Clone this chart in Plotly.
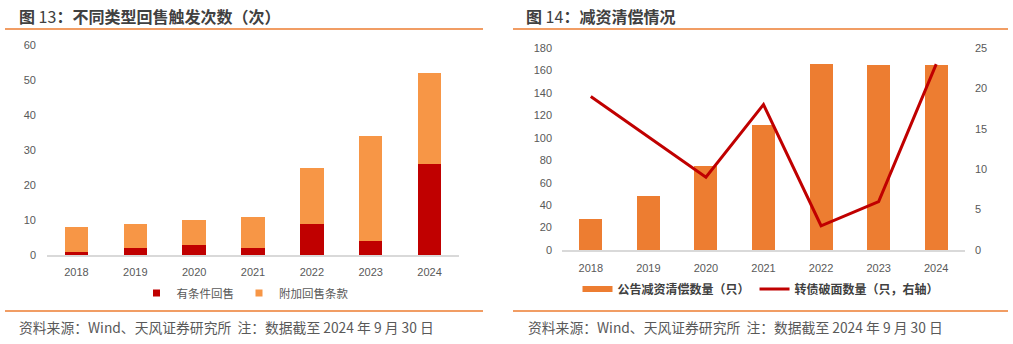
import plotly.graph_objects as go

years = ["2018", "2019", "2020", "2021", "2022", "2023", "2024"]
# Left chart: put-trigger counts
conditional_put = [1, 2, 3, 2, 9, 4, 26]
additional_put = [7, 7, 7, 9, 16, 30, 26]
# Right chart
capital_reduction = [28, 48, 75, 111, 166, 165, 165]
below_par = [19, 14, 9, 18, 3, 6, 23]

W, H = 1013, 344
def px(x):
    return x / W
def py(y):
    return 1 - y / H

RED = "#C00000"
ORANGE_L = "#F79646"
ORANGE_R = "#ED7D31"
LINE_C = "#ED7D31"
TXT = "#595959"
TICKFONT = dict(family="Liberation Sans, Arial, sans-serif", size=11, color=TXT)
CJK = "Noto Sans CJK SC, sans-serif"

fig = go.Figure()

fig.add_trace(go.Bar(x=years, y=conditional_put, name="有条件回售", marker_color=RED,
                     marker_line_width=0, xaxis="x", yaxis="y", showlegend=False))
fig.add_trace(go.Bar(x=years, y=additional_put, name="附加回售条款", marker_color=ORANGE_L,
                     marker_line_width=0, xaxis="x", yaxis="y", showlegend=False))
# legend entries (small squares) for the left chart
fig.add_trace(go.Scatter(x=[None], y=[None], mode="markers", name="有条件回售",
                         marker=dict(color=RED, symbol="square", size=7),
                         xaxis="x", yaxis="y", legend="legend"))
fig.add_trace(go.Scatter(x=[None], y=[None], mode="markers", name="附加回售条款",
                         marker=dict(color=ORANGE_L, symbol="square", size=7),
                         xaxis="x", yaxis="y", legend="legend"))

fig.add_trace(go.Bar(x=years, y=capital_reduction, name="公告减资清偿数量（只）",
                     marker_color=ORANGE_R, marker_line_width=0, xaxis="x2", yaxis="y2",
                     showlegend=False))
fig.add_trace(go.Scatter(x=[None], y=[None], mode="lines", name="公告减资清偿数量（只）",
                         line=dict(color=ORANGE_R, width=6), xaxis="x2", yaxis="y2",
                         legend="legend2"))
fig.add_trace(go.Scatter(x=years, y=below_par, mode="lines", name="转债破面数量（只，右轴）",
                         line=dict(color=RED, width=3), xaxis="x2", yaxis="y3",
                         legend="legend2"))

axis_common = dict(showgrid=False, zeroline=False, ticks="", tickfont=TICKFONT, automargin=False)

fig.update_layout(
    template="none",
    width=W, height=H,
    margin=dict(l=0, r=0, t=0, b=0, pad=0, autoexpand=False),
    paper_bgcolor="white", plot_bgcolor="white",
    barmode="stack", bargap=0.6,
    xaxis=dict(domain=[px(47), px(459)], anchor="y", type="category",
               showline=True, linecolor="#D9D9D9", linewidth=1.5,
               ticklabelstandoff=6, **axis_common),
    yaxis=dict(domain=[py(255), py(45)], anchor="x", range=[0, 60], dtick=10,
               showline=False, ticklabelstandoff=10, **axis_common),
    xaxis2=dict(domain=[px(562), px(965)], anchor="y2", type="category",
                showline=True, linecolor="#D9D9D9", linewidth=1.5,
                ticklabelstandoff=7, **axis_common),
    yaxis2=dict(domain=[py(250), py(48)], anchor="x2", range=[0, 180], dtick=20,
                showline=False, ticklabelstandoff=9, **axis_common),
    yaxis3=dict(overlaying="y2", anchor="x2", side="right", range=[0, 25], dtick=5,
                showline=False, ticklabelstandoff=9, **axis_common),
    legend=dict(orientation="h", x=px(245), xanchor="center", y=py(293), yanchor="middle",
                font=dict(family=CJK, size=11.5, color=TXT), itemwidth=30,
                bgcolor="rgba(0,0,0,0)", traceorder="normal"),
    legend2=dict(orientation="h", x=px(761), xanchor="center", y=py(289), yanchor="middle",
                 font=dict(family=CJK, size=12, color="#404040", weight="bold"), itemwidth=30,
                 bgcolor="rgba(0,0,0,0)", traceorder="normal"),
    showlegend=True,
)

shapes = []
for (x0, x1) in [(5, 483), (513, 1008)]:
    for yy in (29, 311):
        shapes.append(dict(type="line", xref="paper", yref="paper",
                           x0=px(x0), x1=px(x1), y0=py(yy), y1=py(yy),
                           line=dict(color=LINE_C, width=1.5)))
fig.update_layout(shapes=shapes)

annotations = [
    dict(text="<b>图</b> 13<b>：不同类型回售触发次数（次）</b>", x=px(17), y=py(16)),
    dict(text="<b>图</b> 14<b>：减资清偿情况</b>", x=px(524), y=py(16)),
]
for a in annotations:
    a.update(xref="paper", yref="paper", xanchor="left", yanchor="middle", showarrow=False,
             font=dict(family=CJK, size=16, color="#404040"))
footer = "资料来源：Wind、天风证券研究所  注：数据截至 2024 年 9 月 30 日"
for xx in (17, 526):
    annotations.append(dict(text=footer, x=px(xx), y=py(327), xref="paper", yref="paper",
                            xanchor="left", yanchor="middle", showarrow=False,
                            font=dict(family=CJK, size=13.8, color=TXT)))
fig.update_layout(annotations=annotations)

fig.write_html("out.html")
